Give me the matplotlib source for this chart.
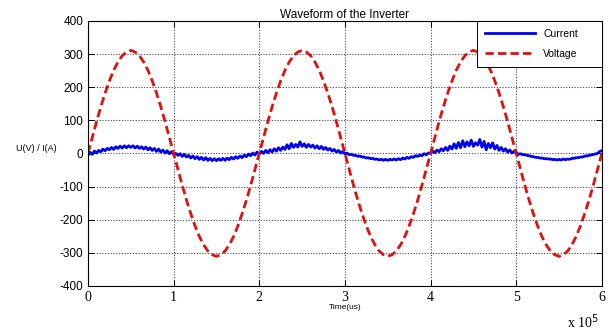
import numpy as np
import matplotlib.pyplot as plt

# data (time in units of 1e5 us)
voltage = [0, 48, 96, 141, 182, 219, 251, 276, 295, 306,
           311, 306, 295, 276, 251, 219, 182, 141, 96, 48,
           0, -48, -96, -141, -182, -219, -251, -276, -295, -306,
           -311, -306, -295, -276, -251, -219, -182, -141, -96, -48,
           0, 48, 96, 141, 182, 219, 251, 276, 295, 306,
           311, 306, 295, 276, 251, 219, 182, 141, 96, 48,
           0, -48, -96, -141, -182, -219, -251, -276, -295, -306,
           -311, -306, -295, -276, -251, -219, -182, -141, -96, -48,
           0, 48, 96, 141, 182, 219, 251, 276, 295, 306,
           311, 306, 295, 276, 251, 219, 182, 141, 96, 48,
           0, -48, -96, -141, -182, -219, -251, -276, -295, -306,
           -311, -306, -295, -276, -251, -219, -182, -141, -96, -48,
           0]

current = [-6, 3, -3, 7, 1, 9, 5, 13, 8, 15, 11, 18, 12, 20, 15, 22, 16, 23, 17, 23,
           18, 23, 16, 22, 15, 20, 13, 19, 11, 17, 9, 15, 6, 13, 4, 10, 1, 8, -1, 5,
           -3, 0, -6, -1, -9, -3, -11, -6, -14, -8, -16, -10, -18, -12, -20, -13, -21, -15, -22, -16,
           -22, -16, -21, -15, -21, -14, -19, -12, -17, -10, -15, -8, -13, -5, -10, -2, -7, 1, -5, 4,
           -2, 6, 0, 9, 2, 11, 4, 14, 7, 17, 9, 19, 12, 26, 14, 30, 18, 27, 19, 35,
           21, 29, 18, 27, 19, 25, 16, 23, 14, 21, 12, 18, 10, 15, 7, 12, 4, 9, 1, 6,
           -2, 1, -4, -3, -6, -6, -9, -8, -11, -11, -14, -13, -16, -15, -18, -17, -20, -18, -21, -18,
           -21, -18, -20, -17, -20, -16, -19, -14, -17, -12, -15, -10, -12, -7, -9, -5, -7, -1, -4, 1,
           0, 7, 2, 10, 5, 14, 8, 18, 9, 22, 13, 29, 15, 33, 17, 38, 20, 35, 23, 40,
           21, 32, 25, 42, 19, 36, 11, 30, 17, 32, 13, 24, 9, 18, 7, 14, 4, 10, 1, 6,
           3, -3, -1, -4, -4, -6, -7, -9, -10, -12, -12, -14, -14, -16, -16, -17, -17, -19, -18, -20,
           -18, -20, -17, -19, -17, -18, -15, -15, -13, -13, -11, -11, -8, -8, -6, -5, -3, -2, 0, 6,
           8]

x_ticks = [0, 1, 2, 3, 4, 5, 6]
y_ticks = [-400, -300, -200, -100, 0, 100, 200, 300, 400]

t_v = np.linspace(0, 6, len(voltage))
t_i = np.linspace(0, 6, len(current))

fig = plt.figure(figsize=(6.11, 3.32), dpi=100)
ax = fig.add_axes([0.144, 0.139, 0.841, 0.798])

ax.plot(t_i, current, color='#0000f0', lw=2, label='Current')
ax.plot(t_v, voltage, color='#e01010', lw=2, ls=(0, (3, 1.5)), label='Voltage')

ax.set_xlim(0, 6)
ax.set_ylim(-400, 400)
ax.set_xticks(x_ticks)
ax.set_yticks(y_ticks)
ax.set_xticklabels([str(v) for v in x_ticks], family='Liberation Serif', fontsize=10)
ax.set_yticklabels([str(v) for v in y_ticks], family='Liberation Sans', fontsize=8.5)
ax.tick_params(direction='in', top=True, right=True, length=4, width=0.7)
ax.grid(True, color='#444444', ls=(0, (1, 1.5)), lw=0.8)
for s in ax.spines.values():
    s.set_linewidth(0.8)

ax.set_title('Waveform of the Inverter', family='Liberation Sans', fontsize=8.5, pad=2)
ax.set_xlabel('Time(us)', family='Liberation Sans', fontsize=6, labelpad=0)
ax.set_ylabel('U(V) / I(A)', family='Liberation Sans', fontsize=6.5, rotation=0, labelpad=2)
ax.yaxis.set_label_coords(-0.1, 0.5)
fig.text(0.928, 0.012, r'x 10$^{5}$', family='Liberation Serif', fontsize=10)

leg = ax.legend(loc='upper right', bbox_to_anchor=(0.757, 0.826, 0.243, 0.174), mode='expand',
                borderaxespad=0, fancybox=False, framealpha=1, edgecolor='black',
                prop={'family': 'Liberation Sans', 'size': 7.5},
                handlelength=4.8, borderpad=0.75, labelspacing=1.0)
leg.get_frame().set_linewidth(0.7)

plt.savefig('out.png', dpi=100)
